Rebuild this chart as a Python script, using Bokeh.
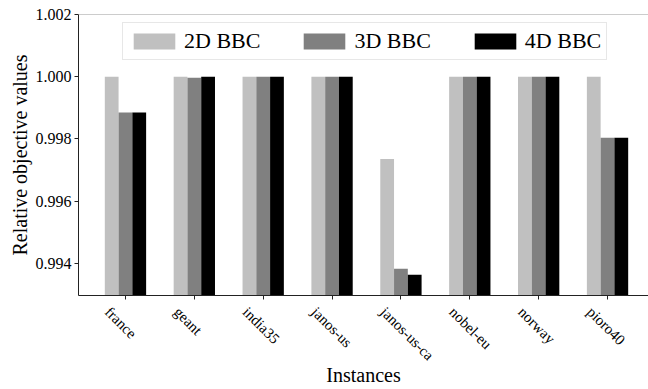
import math
from bokeh.plotting import figure
from bokeh.models import (ColumnDataSource, FixedTicker, PrintfTickFormatter, Legend, LegendItem,
                          Span, Range1d)
from bokeh.transform import dodge
from bokeh.embed import file_html
from bokeh.resources import INLINE

instances = ["france", "geant", "india35", "janos-us", "janos-us-ca", "nobel-eu", "norway", "pioro40"]
bbc_2d = [1.0, 1.0, 1.0, 1.0, 0.99736, 1.0, 1.0, 1.0]
bbc_3d = [0.99885, 0.99997, 1.0, 1.0, 0.99383, 1.0, 1.0, 0.99804]
bbc_4d = [0.99885, 1.0, 1.0, 1.0, 0.99364, 1.0, 1.0, 0.99804]
y_ticks = [0.994, 0.996, 0.998, 1.000, 1.002]
series_names = ["2D BBC", "3D BBC", "4D BBC"]
colors = ["#c0c0c0", "#808080", "#000000"]

FONT = "Liberation Serif"
Y0, Y1 = 0.99297, 1.002
X0, X1 = -0.682, 7.595
LABEL_SHIFT = 0.26  # rotated tick labels start left of their tick so that they sit centred under it

idx = list(range(len(instances)))
src = ColumnDataSource(dict(x=idx, name=instances, d2=bbc_2d, d3=bbc_3d, d4=bbc_4d))

p = figure(width=648, height=389, output_backend="svg", toolbar_location=None,
           x_range=Range1d(X0, X1), y_range=Range1d(Y0, Y1),
           min_border_left=78, min_border_right=0, min_border_top=14, min_border_bottom=94)
p.extra_x_ranges = {"lab": Range1d(X0 + LABEL_SHIFT, X1 + LABEL_SHIFT)}
p.outline_line_color = None
p.xgrid.visible = False
p.ygrid.visible = False
p.background_fill_color = "white"
p.border_fill_color = "white"

renderers = []
for col, off, c in zip(["d2", "d3", "d4"], [-0.2, 0.0, 0.2], colors):
    r = p.vbar(x=dodge("x", off), top=col, bottom=0.9, width=0.2, source=src,
               fill_color=c, line_color=None)
    renderers.append(r)

# y axis
p.yaxis.ticker = FixedTicker(ticks=y_ticks)
p.yaxis.formatter = PrintfTickFormatter(format="%.3f")
p.yaxis.minor_tick_line_color = None
p.yaxis.major_tick_out = 4
p.yaxis.major_tick_in = 0
p.yaxis.major_label_standoff = 3
p.yaxis.major_label_text_font = FONT
p.yaxis.major_label_text_font_size = "16px"
p.yaxis.major_label_text_color = "black"
p.yaxis.axis_line_color = "#222222"
p.yaxis.major_tick_line_color = "#222222"
p.yaxis.axis_label = "Relative objective values"
p.yaxis.axis_label_text_font = FONT
p.yaxis.axis_label_text_font_size = "20px"
p.yaxis.axis_label_text_font_style = "normal"
p.yaxis.axis_label_text_color = "black"
p.yaxis.axis_label_standoff = 2

# x axis: labels on the shifted range, tick marks (as minor ticks) at the category centres
xa = p.xaxis[0]
xa.x_range_name = "lab"
xa.ticker = FixedTicker(ticks=idx, minor_ticks=[i + LABEL_SHIFT for i in idx])
xa.major_label_overrides = {i: n for i, n in zip(idx, instances)}
xa.major_label_orientation = -math.pi / 4
xa.major_label_standoff = 10
xa.major_label_text_font = FONT
xa.major_label_text_font_size = "15px"
xa.major_label_text_color = "black"
xa.major_tick_out = 0
xa.major_tick_in = 0
xa.major_tick_line_color = None
xa.minor_tick_out = 4
xa.minor_tick_in = 0
xa.minor_tick_line_color = "#222222"
xa.axis_line_color = "#222222"
xa.axis_label = "Instances"
xa.axis_label_text_font = FONT
xa.axis_label_text_font_size = "20px"
xa.axis_label_text_font_style = "normal"
xa.axis_label_text_color = "black"
xa.axis_label_standoff = -8

# top spine
p.add_layout(Span(location=Y1, dimension="width", line_color="#999999", line_width=1))

legend = Legend(items=[LegendItem(label=n, renderers=[r]) for n, r in zip(series_names, renderers)],
                location=(44, 235), orientation="horizontal",
                glyph_width=52, glyph_height=20, label_standoff=4, spacing=38, padding=5, margin=0,
                label_text_font=FONT, label_text_font_size="22px", label_text_color="black",
                border_line_color="#d0d0d0", border_line_width=1,
                background_fill_color="white", background_fill_alpha=0.8)
p.add_layout(legend)

open("out.html", "w").write(file_html(p, INLINE))
